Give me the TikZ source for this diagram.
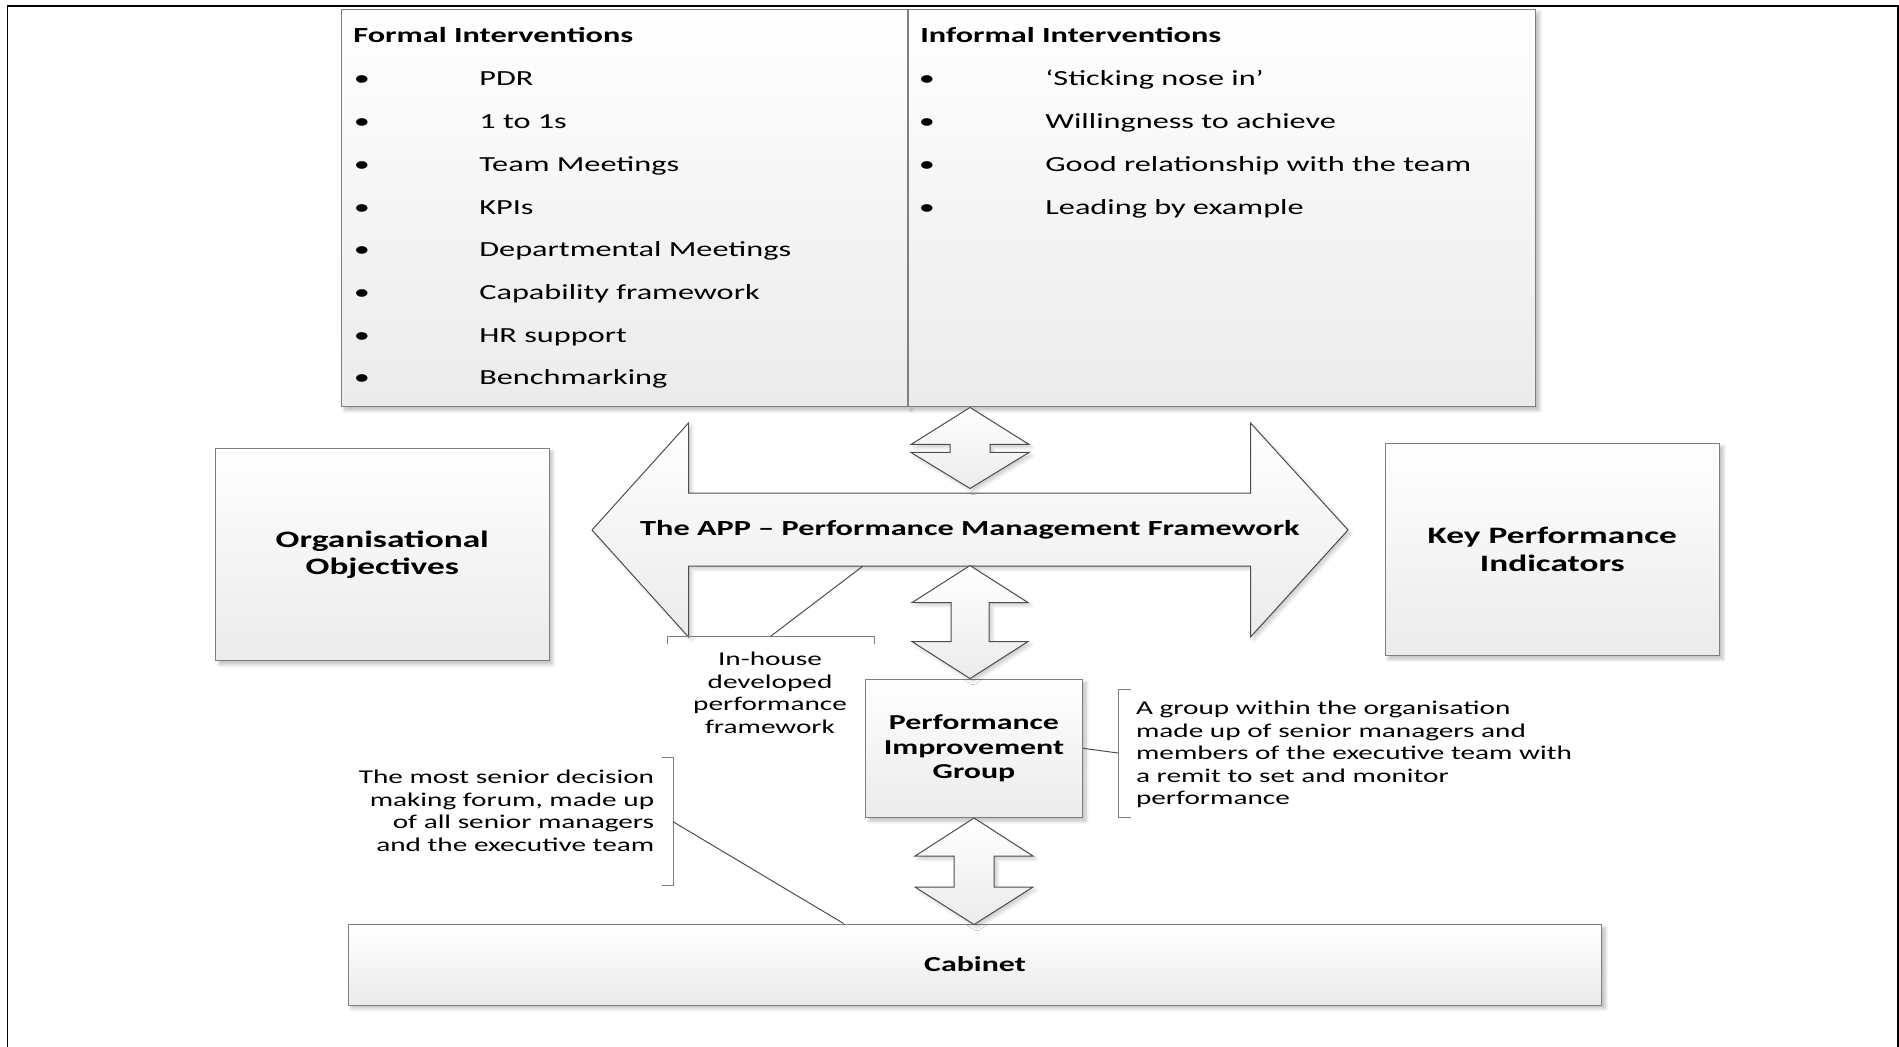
\documentclass[tikz,border=0pt]{standalone}
\usepackage{fontspec}
\setmainfont{Carlito}[FakeStretch=1.5]
\usetikzlibrary{shadows.blur,calc}
\definecolor{box-line}{HTML}{7F7F7F}
\definecolor{arrow-line}{HTML}{4D4D4D}
\definecolor{box-low}{HTML}{EBEBEB}

\begin{document}
\begin{tikzpicture}[x=0.02cm, y=-0.02cm,
        box/.style={draw=box-line, line width=0.02cm, top color=white, bottom color=box-low,
          blur shadow={shadow xshift=0.07cm, shadow yshift=-0.07cm, shadow opacity=25, shadow blur steps=6},
          inner sep=0pt, align=center, font=\bfseries\fontsize{12.1}{13.9}\selectfont},
        fatarrow/.style={draw=arrow-line, line width=0.02cm, top color=white, bottom color=box-low,
          blur shadow={shadow xshift=0.06cm, shadow yshift=-0.06cm, shadow opacity=20, shadow blur steps=5}},
        listhead/.style={anchor=base west, inner sep=0pt, font=\bfseries\fontsize{12.25}{14}\selectfont},
        item/.style={anchor=base west, inner sep=0pt, font=\fontsize{12.25}{14}\selectfont},
        bul/.style={anchor=base, inner sep=0pt, font=\fontsize{12.25}{14}\selectfont},
        note/.style={inner sep=0pt, font=\fontsize{11.1}{12.8}\selectfont},
        notebracket/.style={draw=box-line, line width=0.02cm},
        leader/.style={draw=arrow-line, line width=0.02cm}]
      \useasboundingbox (0,0) rectangle (1899,1047);
      % page frame, open at the bottom
      \draw[line width=0.04cm] (7.5,1047) -- (7.5,6) -- (1897.5,6) -- (1897.5,1047);

      % interventions
      \node[box, minimum width=11.34cm, minimum height=7.96cm] (formal) at (624.5,208) {};
      \node[box, minimum width=12.56cm, minimum height=7.96cm] (informal) at (1222,208) {};
      \node[listhead] (formalhd) at (353,42.7) {Formal Interventions};
      \node[listhead] (informalhd) at (920,42.7) {Informal Interventions};
      \foreach \txt [count=\i] in {PDR, 1 to 1s, Team Meetings, KPIs, Departmental Meetings,
          Capability framework, HR support, Benchmarking} {
        \node[bul] (fb\i) at (362,{86+42.7*(\i-1)}) {•};
        \node[item] (fi\i) at (479,{86+42.7*(\i-1)}) {\txt};
      }
      \foreach \txt [count=\i] in {‘Sticking nose in’, Willingness to achieve,
          Good relationship with the team, Leading by example} {
        \node[bul] (ib\i) at (927,{86+42.7*(\i-1)}) {•};
        \node[item] (ii\i) at (1045,{86+42.7*(\i-1)}) {\txt};
      }

      % framework arrow
      \draw[fatarrow] (592,530) -- (688.5,423) -- (688.5,493) -- (1250.5,493) -- (1250.5,423)
        -- (1348,530) -- (1250.5,637) -- (1250.5,566) -- (688.5,566) -- (688.5,637) -- cycle;
      \node[inner sep=0pt, font=\bfseries\fontsize{12.25}{14}\selectfont]
            (app) at (970,530) {The APP – Performance Management Framework};

      \node[box, minimum width=6.67cm, minimum height=4.26cm, font=\bfseries\fontsize{13.4}{15.4}\selectfont]
            (org) at (382.3,554.5) {Organisational\\Objectives};
      \node[box, minimum width=6.69cm, minimum height=4.25cm, font=\bfseries\fontsize{13.4}{15.4}\selectfont]
            (kpi) at (1552.3,549.4) {Key Performance\\Indicators};
      \node[box, minimum width=4.34cm, minimum height=2.77cm]
            (pig) at (974,748.3) {Performance\\Improvement\\Group};
      \node[box, minimum width=25.08cm, minimum height=1.62cm]
            (cab) at (975,964.5) {Cabinet};

      % up-down arrows
      \draw[fatarrow] (app |- informal.south) -- ++(59,37) -- ++(-39,0) -- ++(0,8) -- ++(39,0)
        -- ++(-59,36) -- ++(-59,-36) -- ++(39,0) -- ++(0,-8) -- ++(-39,0) -- cycle;
      \draw[fatarrow] (app |- pig.north) -- ++(58,-37) -- ++(-39,0) -- ++(0,-39) -- ++(39,0)
        -- ++(-58,-37) -- ++(-58,37) -- ++(39,0) -- ++(0,39) -- ++(-39,0) -- cycle;
      \draw[fatarrow] (pig.south) -- ++(59,38) -- ++(-39,0) -- ++(0,31) -- ++(39,0)
        -- ++(-59,37.5) -- ++(-59,-37.5) -- ++(39,0) -- ++(0,-31) -- ++(-39,0) -- cycle;

      % callouts
      \node[note, align=center] (inhouse) at (770,693) {In-house\\developed\\performance\\framework};
      \draw[notebracket] (667,644) -- (667,636) -- (874.5,636) -- (874.5,644);
      \coordinate (ihfoot) at (771,636);
      \coordinate (ihtip) at (863,566);
      \draw[leader] (ihfoot) -- (ihtip);

      \node[note, align=left, anchor=west] (pignote) at (1135.7,754.5)
            {A group within the organisation\\made up of senior managers and\\members of the executive team with\\a remit to set and monitor\\performance};
      \draw[notebracket] (1131,689) -- (1118,689) -- (1118,817.7) -- (1131,817.7);
      \coordinate (pigfoot) at (1118,753);
      \draw[leader] (pig.east) -- (pigfoot);

      \node[note, align=right, anchor=east] (cabnote) at (654.5,811)
            {The most senior decision\\making forum, made up\\of all senior managers\\and the executive team};
      \draw[notebracket] (662,757) -- (673,757) -- (673,885) -- (662,885);
      \coordinate (cabfoot) at (673,821.7);
      \draw[leader] (cabfoot) -- ($(cab.north west)+(496,0)$);
    \end{tikzpicture}
\end{document}
